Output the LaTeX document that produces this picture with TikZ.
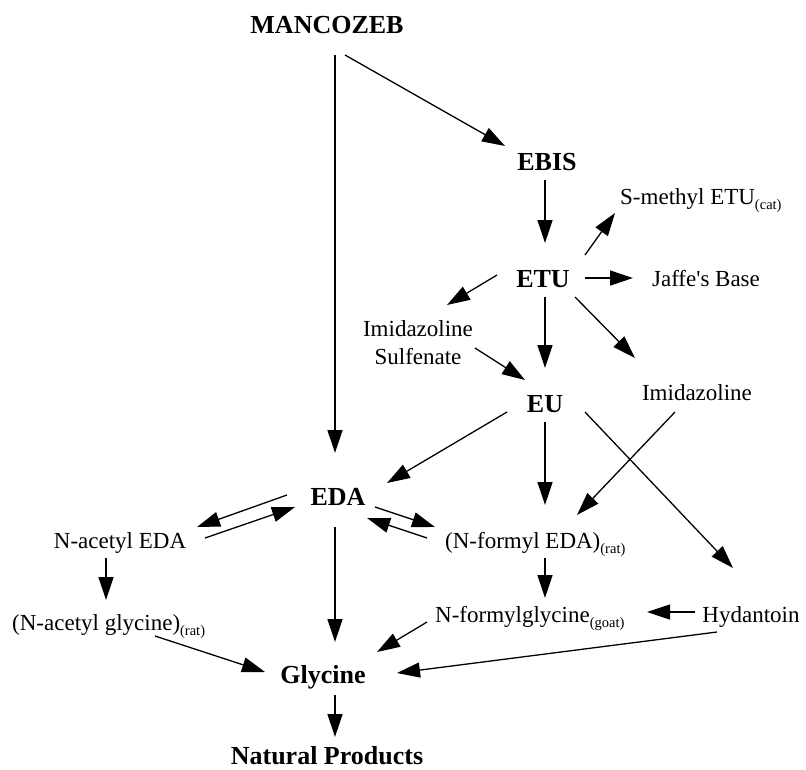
\documentclass[tikz,border=0pt]{standalone}
\usepackage{fontspec}
\setmainfont{Liberation Serif}
\font\rawlib="Liberation Serif" at 23pt
\usetikzlibrary{arrows.meta}
\newcommand\subs[1]{\raisebox{-5pt}{\fontsize{14.5}{16}\selectfont #1}}
\newcommand\conn[6]{\draw[arr] ([shift={(#2,#3)}]#1) -- ([shift={(#5,#6)}]#4);}
\tikzset{
  reg/.style={inner sep=0pt, font=\fontsize{23}{28}\selectfont},
  bld/.style={inner sep=0pt, font=\fontsize{26}{30}\selectfont\bfseries},
  arr/.style={line width=1.3pt, -{Triangle[length=23pt,width=15pt]}}
}
\begin{document}
\begin{tikzpicture}[x=1pt,y=-1pt]
\useasboundingbox (0,0) rectangle (806,769);
\node[bld, anchor=base] (man) at (327,33) {MANCOZEB};
\node[bld, anchor=base] (ebis) at (547,170) {EBIS};
\node[bld, anchor=base] (etu) at (543,287) {ETU};
\node[reg, anchor=base west] (smethyl) at (620,204) {S-methyl ETU\subs{(cat)}};
\node[reg, anchor=base] (jaffe) at (706,286) {Jaffe{\rawlib '}s Base};
\node[reg, anchor=center, align=center] (sulf) at (418,343) {Imidazoline\\Sulfenate};
\node[bld, anchor=base] (eu) at (545,412) {EU};
\node[reg, anchor=base] (imid) at (697,400) {Imidazoline};
\node[bld, anchor=base] (eda) at (338,505) {EDA};
\node[reg, anchor=base] (nacetyl) at (120,548) {N-acetyl EDA};
\node[reg, anchor=base west] (nformyl) at (445,548) {(N-formyl EDA)\subs{(rat)}};
\node[reg, anchor=base west] (nacgly) at (12,630) {(N-acetyl glycine)\subs{(rat)}};
\node[reg, anchor=base west] (nfgly) at (435,622) {N-formylglycine\subs{(goat)}};
\node[reg, anchor=base] (hyd) at (751,622) {Hydantoin};
\node[bld, anchor=base] (gly) at (323,683) {Glycine};
\node[bld, anchor=base] (nat) at (327,764) {Natural Products};

\conn{man.base}{8}{22}{eda.base}{-3}{-52}
\conn{man.base}{18}{22}{ebis.base}{-42}{-24}
\conn{ebis.base}{-2}{10}{etu.base}{2}{-44}
\conn{etu.base}{42}{-32}{smethyl.base west}{-5}{9}
\conn{etu.base}{42}{-9}{jaffe.base}{-73}{-8}
\conn{etu.base}{-46}{-12}{sulf.center}{29}{-38}
\conn{etu.base}{2}{10}{eu.base}{0}{-44}
\conn{etu.base}{32}{10}{imid.base}{-62}{-42}
\conn{sulf.center}{57}{5}{eu.base}{-20}{-32}
\conn{eu.base}{-38}{0}{eda.base}{49}{-22}
\conn{eu.base}{0}{10}{nformyl.base west}{100}{-43}
\conn{eu.base}{40}{0}{hyd.base}{-18}{-54}
\conn{imid.base}{-22}{12}{nformyl.base west}{132}{-33}
\conn{eda.base}{-51}{-10}{nacetyl.base}{77}{-21}
\conn{nacetyl.base}{85}{-10}{eda.base}{-43}{2}
\conn{eda.base}{37}{2}{nformyl.base west}{-10}{-21}
\conn{nformyl.base west}{-18}{-10}{eda.base}{29}{13}
\conn{eda.base}{-3}{22}{gly.base}{12}{-41}
\conn{nacetyl.base}{-14}{10}{nacgly.base west}{94}{-30}
\conn{nformyl.base west}{100}{10}{nfgly.base west}{110}{-24}
\conn{hyd.base}{-56}{-10}{nfgly.base west}{212}{-10}
\conn{nacgly.base west}{143}{6}{gly.base}{-58}{-11}
\conn{nfgly.base west}{-8}{0}{gly.base}{54}{-31}
\conn{hyd.base}{-34}{10}{gly.base}{74}{-10}
\conn{gly.base}{12}{12}{nat.base}{8}{-27}
\end{tikzpicture}
\end{document}
